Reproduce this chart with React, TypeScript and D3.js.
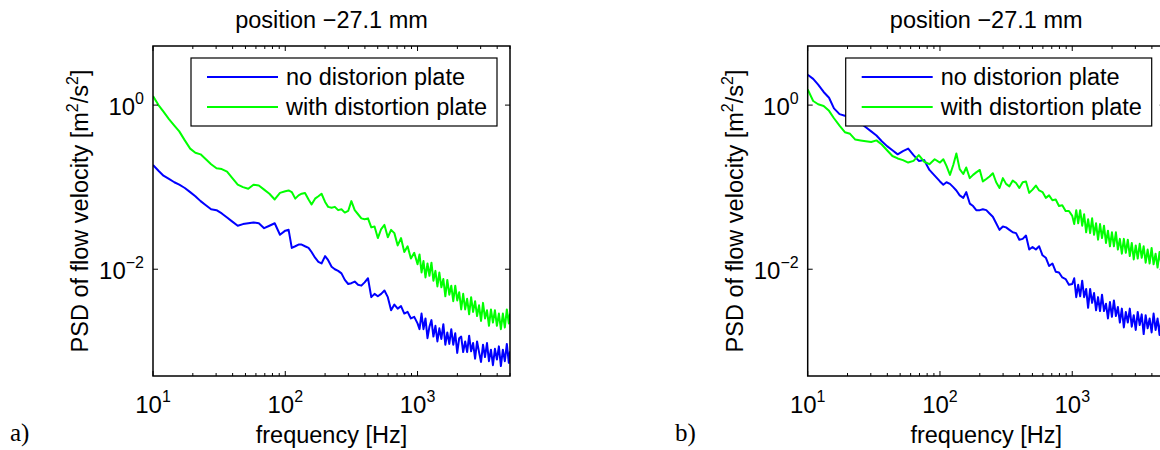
import React from "react";
import * as d3 from "d3";

// Shared frequency grid (Hz)
const FREQ_HZ = [
  10, 11, 12, 13.2, 14.5, 15.8, 17.4, 19.1, 20.9, 22.9, 25.1, 27.5, 30.2, 33.1, 36.3, 39.8, 43.7, 47.9, 52.5, 57.5, 63.1, 69.2, 75.9, 83.2, 91.2, 100,
  106, 112, 119, 126, 133, 141, 150, 158, 168, 178, 188, 200, 211, 224, 237, 251, 266, 282, 299, 316, 335, 355, 376, 398, 422, 447, 473, 501, 531, 562, 596, 631, 668, 708, 750, 794, 841, 891, 944, 1000,
  1035, 1072, 1109, 1148, 1189, 1230, 1274, 1318, 1365, 1413, 1462, 1514, 1567, 1622, 1679, 1738, 1799, 1862, 1928, 1995, 2065, 2138, 2213, 2291, 2371, 2455, 2541, 2630, 2723, 2818, 2917, 3020, 3126, 3236, 3350, 3467, 3589, 3715, 3846, 3981, 4121, 4266, 4416, 4571, 4732, 4898, 5000,
];

// PSD values in dB (10*log10 of m^2/s^2)
const LEFT_NO_PLATE_DB = [
  -7.3, -8.0, -8.6, -9.0, -9.4, -9.7, -10.1, -10.6, -11.1, -11.7, -12.2, -12.7, -12.8, -13.2, -13.7, -14.2, -14.7, -14.5, -14.4, -14.3, -14.4, -15.0, -14.7, -14.4, -15.8, -15.3,
  -15.2, -17.4, -17.2, -17.0, -17.0, -17.2, -17.4, -17.9, -18.6, -19.1, -19.3, -18.4, -18.9, -19.7, -20.0, -20.2, -20.5, -21.3, -21.8, -21.7, -21.5, -21.9, -22.0, -21.6, -21.1, -23.4, -23.0, -23.3, -23.0, -22.6, -23.4, -25.0, -24.3, -24.8, -24.5, -25.4, -25.2, -26.0, -25.8, -26.6,
  -27.3, -25.4, -27.3, -26.0, -28.4, -27.0, -26.2, -28.2, -26.9, -28.8, -27.2, -28.5, -26.7, -29.2, -27.7, -29.1, -27.3, -29.2, -27.8, -30.2, -28.4, -28.2, -30.1, -28.8, -30.1, -28.1, -30.0, -29.0, -30.9, -28.8, -30.1, -31.3, -29.2, -30.7, -29.0, -31.2, -29.8, -31.7, -29.7, -31.0, -29.4, -31.8, -29.8, -31.2, -29.1, -31.4, -30.0,
];

const LEFT_WITH_PLATE_DB = [
  1.1, 0.0, -0.8, -1.7, -2.5, -3.2, -4.3, -5.3, -5.8, -6.0, -6.6, -7.2, -7.7, -7.8, -8.1, -8.9, -9.7, -10.0, -10.2, -9.7, -9.8, -10.3, -10.8, -11.5, -10.7, -10.5,
  -10.4, -10.6, -11.4, -11.0, -10.8, -10.7, -11.5, -12.1, -11.4, -11.1, -10.8, -11.8, -12.4, -12.5, -12.4, -12.8, -12.7, -13.1, -12.9, -11.7, -12.8, -13.3, -13.8, -13.9, -13.8, -14.9, -14.8, -16.2, -15.1, -14.6, -16.1, -15.2, -15.6, -17.1, -16.2, -17.9, -17.2, -18.7, -18.0, -19.4,
  -18.2, -20.4, -19.0, -21.0, -19.3, -20.8, -19.2, -21.4, -20.2, -22.1, -20.4, -22.2, -21.2, -23.3, -21.3, -23.1, -22.0, -23.9, -22.0, -23.8, -22.8, -24.9, -23.0, -24.9, -23.6, -25.5, -23.4, -25.2, -23.9, -25.7, -24.4, -26.3, -24.1, -26.0, -25.0, -26.9, -24.9, -26.5, -25.0, -26.9, -25.4, -27.3, -25.4, -27.1, -24.9, -26.6, -25.4,
];

const RIGHT_NO_PLATE_DB = [
  3.7, 3.2, 2.5, 1.6, 0.9, -0.4, -1.1, -1.3, -1.4, -1.7, -2.2, -2.7, -3.2, -3.7, -4.4, -5.0, -5.5, -6.0, -5.6, -5.3, -6.1, -6.8, -6.7, -7.9, -8.6, -9.3,
  -9.7, -9.4, -9.6, -10.0, -10.4, -11.0, -11.3, -10.6, -12.0, -12.3, -12.8, -12.8, -12.7, -12.8, -13.2, -13.6, -14.4, -15.2, -14.8, -14.9, -15.2, -15.5, -15.6, -16.4, -16.3, -15.9, -17.6, -17.3, -17.6, -17.2, -18.3, -18.6, -19.6, -19.3, -20.3, -20.4, -21.0, -21.2, -21.9, -21.8,
  -21.1, -23.4, -21.9, -23.3, -21.4, -23.4, -22.4, -24.7, -22.4, -24.1, -22.9, -25.0, -23.4, -25.1, -23.1, -25.1, -24.2, -26.0, -24.0, -25.8, -23.8, -25.7, -24.6, -26.5, -24.8, -27.1, -25.2, -26.5, -24.8, -27.0, -25.6, -27.4, -25.2, -26.8, -25.5, -27.9, -25.6, -27.2, -26.0, -27.7, -25.4, -27.4, -26.0, -28.0, -25.7, -27.1, -25.8,
];

const RIGHT_WITH_PLATE_DB = [
  1.9, 0.5, 0.1, -0.1, -0.7, -1.6, -2.5, -3.3, -3.5, -4.2, -4.3, -4.4, -4.5, -4.3, -4.8, -5.5, -6.2, -6.5, -6.7, -7.0, -6.8, -6.1, -6.9, -7.2, -6.6, -7.0,
  -6.6, -7.4, -8.5, -7.3, -5.9, -7.8, -8.4, -7.6, -8.9, -8.5, -8.2, -7.9, -9.3, -9.0, -8.7, -8.3, -9.4, -10.1, -8.9, -9.6, -9.9, -9.2, -9.5, -10.1, -9.4, -9.3, -10.7, -10.3, -9.8, -10.4, -10.6, -11.3, -11.0, -11.6, -11.5, -12.3, -12.2, -12.9, -12.9, -13.5,
  -14.5, -12.8, -14.4, -12.8, -14.7, -13.3, -15.5, -13.9, -15.6, -13.8, -15.8, -14.4, -16.4, -14.5, -16.2, -14.7, -16.8, -15.3, -17.2, -15.5, -17.2, -15.5, -17.6, -16.3, -18.1, -16.3, -18.0, -16.4, -18.4, -16.8, -18.8, -17.1, -18.7, -16.9, -18.6, -17.2, -19.2, -17.6, -19.3, -17.4, -19.4, -18.1, -19.8, -17.9, -19.6, -18.0, -19.8,
];

const X_DOMAIN = [10, 5000];
const Y_DOMAIN = [5e-4, 5.25];
const X_TICK_EXPONENTS = [1, 2, 3];
const Y_TICK_EXPONENTS = [0, -2];
const TITLE = "position \u221227.1 mm";
const X_LABEL = "frequency [Hz]";
const LEGEND_LABELS = ["no distorion plate", "with distortion plate"];
const PANEL_LABELS = ["a)", "b)"];

const BLUE = "#0000ff";
const GREEN = "#00ff00";
const FONT = "'Liberation Sans', Arial, Helvetica, sans-serif";

const PLOT_W = 357;
const PLOT_TOP = 46;
const PLOT_H = 330;

function expLabel(e: number) {
  return e < 0 ? "\u2212" + Math.abs(e) : String(e);
}

function Panel(props: {
  id: string;
  x0: number;
  noPlate: number[];
  withPlate: number[];
  panelLabel: string;
  panelLabelX: number;
}) {
  const { id, x0, noPlate, withPlate, panelLabel, panelLabelX } = props;
  const x = d3.scaleLog().domain(X_DOMAIN).range([x0, x0 + PLOT_W]);
  const y = d3.scaleLog().domain(Y_DOMAIN).range([PLOT_TOP + PLOT_H, PLOT_TOP]);
  const line = d3
    .line<[number, number]>()
    .x((d) => x(d[0]))
    .y((d) => y(Math.pow(10, d[1] / 10)));
  const bluePath = line(d3.zip(FREQ_HZ, noPlate) as [number, number][]) || "";
  const greenPath = line(d3.zip(FREQ_HZ, withPlate) as [number, number][]) || "";

  const xTicks = x.ticks();
  const isMajor = (t: number) => Math.abs(Math.log10(t) - Math.round(Math.log10(t))) < 1e-9;
  const bottom = PLOT_TOP + PLOT_H;
  const right = x0 + PLOT_W;
  const cx = x0 + PLOT_W / 2;
  const cy = PLOT_TOP + PLOT_H / 2;

  const legX = x0 + 38;
  const legY = PLOT_TOP + 12;
  const legW = 306;
  const legH = 68;

  return (
    <g>
      <defs>
        <clipPath id={id}>
          <rect x={x0} y={PLOT_TOP} width={PLOT_W} height={PLOT_H} />
        </clipPath>
      </defs>
      <g clipPath={`url(#${id})`} fill="none" strokeWidth={2} strokeLinejoin="round">
        <path d={bluePath} stroke={BLUE} />
        <path d={greenPath} stroke={GREEN} />
      </g>
      <rect x={x0} y={PLOT_TOP} width={PLOT_W} height={PLOT_H} fill="none" stroke="#000" strokeWidth={1.5} />
      {xTicks.map((t, i) => {
        const len = isMajor(t) ? 5 : 3;
        const px = x(t);
        return (
          <g key={"xt" + i} stroke="#000" strokeWidth={1}>
            <line x1={px} x2={px} y1={bottom} y2={bottom - len} />
            <line x1={px} x2={px} y1={PLOT_TOP} y2={PLOT_TOP + len} />
          </g>
        );
      })}
      {Y_TICK_EXPONENTS.map((e) => {
        const py = y(Math.pow(10, e));
        return (
          <g key={"yt" + e} stroke="#000" strokeWidth={1}>
            <line x1={x0} x2={x0 + 5} y1={py} y2={py} />
            <line x1={right} x2={right - 5} y1={py} y2={py} />
          </g>
        );
      })}
      {X_TICK_EXPONENTS.map((e) => (
        <text key={"xl" + e} x={x(Math.pow(10, e))} y={413} textAnchor="middle" fontSize={24} fontFamily={FONT}>
          10
          <tspan fontSize={16} dy={-11}>
            {expLabel(e)}
          </tspan>
        </text>
      ))}
      {Y_TICK_EXPONENTS.map((e) => (
        <text key={"yl" + e} x={x0 - 9} y={y(Math.pow(10, e)) + 10} textAnchor="end" fontSize={24} fontFamily={FONT}>
          10
          <tspan fontSize={16} dy={-11}>
            {expLabel(e)}
          </tspan>
        </text>
      ))}
      <text x={cx} y={28} textAnchor="middle" fontSize={23.5} fontFamily={FONT}>
        {TITLE}
      </text>
      <text x={cx} y={443} textAnchor="middle" fontSize={23.5} fontFamily={FONT}>
        {X_LABEL}
      </text>
      <text
        transform={`translate(${x0 - 65},${cy}) rotate(-90)`}
        textAnchor="middle"
        fontSize={23.5}
        fontFamily={FONT}
      >
        PSD of flow velocity [m
        <tspan fontSize={16} dy={-10}>2</tspan>
        <tspan dy={10}>/s</tspan>
        <tspan fontSize={16} dy={-10}>2</tspan>
        <tspan dy={10}>]</tspan>
      </text>
      <rect x={legX} y={legY} width={legW} height={legH} fill="#fff" stroke="#000" strokeWidth={1.2} />
      {[BLUE, GREEN].map((c, i) => {
        const ly = legY + 19 + i * 30;
        return (
          <g key={"lg" + i}>
            <line x1={legX + 16} x2={legX + 87} y1={ly} y2={ly} stroke={c} strokeWidth={2} />
            <text x={legX + 95} y={ly + 8} fontSize={23.5} fontFamily={FONT}>
              {LEGEND_LABELS[i]}
            </text>
          </g>
        );
      })}
      <text x={panelLabelX} y={441} fontSize={25} fontFamily="'Liberation Serif', 'Times New Roman', serif">
        {panelLabel}
      </text>
    </g>
  );
}

export default function App() {
  return (
    <svg
      width={1160}
      height={450}
      style={{ position: "absolute", left: 0, top: 0, background: "#fff" }}
    >
      <rect x={0} y={0} width={1160} height={450} fill="#fff" />
      <Panel id="clipA" x0={153} noPlate={LEFT_NO_PLATE_DB} withPlate={LEFT_WITH_PLATE_DB} panelLabel={PANEL_LABELS[0]} panelLabelX={10} />
      <Panel id="clipB" x0={807.7} noPlate={RIGHT_NO_PLATE_DB} withPlate={RIGHT_WITH_PLATE_DB} panelLabel={PANEL_LABELS[1]} panelLabelX={675} />
    </svg>
  );
}
